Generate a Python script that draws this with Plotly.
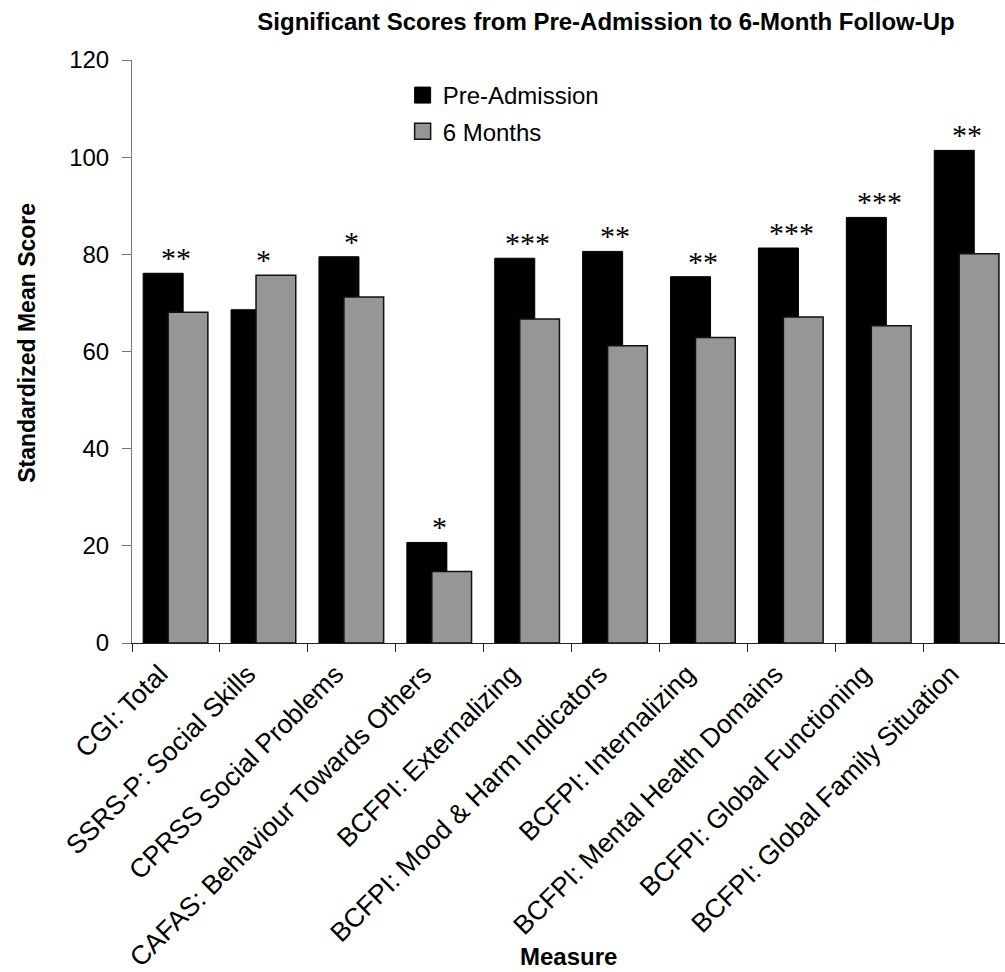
import plotly.graph_objects as go

categories = [
    "CGI: Total",
    "SSRS-P: Social Skills",
    "CPRSS Social Problems",
    "CAFAS: Behaviour Towards Others",
    "BCFPI: Externalizing",
    "BCFPI: Mood & Harm Indicators",
    "BCFPI: Internalizing",
    "BCFPI: Mental Health Domains",
    "BCFPI: Global Functioning",
    "BCFPI: Global Family Situation",
]
pre_admission = [76.1, 68.6, 79.5, 20.7, 79.2, 80.6, 75.4, 81.3, 87.6, 101.4]
six_months = [68.1, 75.7, 71.2, 14.7, 66.7, 61.2, 62.9, 67.1, 65.3, 80.1]
significance = ["**", "*", "*", "*", "***", "**", "**", "***", "***", "**"]

FONT = "Liberation Sans, Arial, sans-serif"
BLACK = "#000000"
GRAY = "#969696"

fig = go.Figure()
fig.add_trace(go.Bar(
    x=categories, y=pre_admission, name="Pre-Admission",
    marker=dict(color=BLACK, line=dict(color=BLACK, width=1)),
    offset=-0.373, width=0.455, showlegend=False,
))
fig.add_trace(go.Bar(
    x=categories, y=six_months, name="6 Months",
    marker=dict(color=GRAY, line=dict(color="#111111", width=1.5)),
    offset=-0.089, width=0.452, showlegend=False,
))
# legend entries
fig.add_trace(go.Scatter(
    x=[None], y=[None], mode="markers", name="Pre-Admission",
    marker=dict(symbol="square", size=18, color=BLACK, line=dict(color=BLACK, width=1)),
    legendgroup="a",
))
fig.add_trace(go.Scatter(
    x=[None], y=[None], mode="markers", name="6 Months",
    marker=dict(symbol="square", size=18, color=GRAY, line=dict(color="#111111", width=1.5)),
    legendgroup="b",
))

for cat, p, s, sig in zip(categories, pre_admission, six_months, significance):
    fig.add_annotation(
        x=cat, y=max(p, s), text=sig, showarrow=False,
        yanchor="bottom", xanchor="center", yshift=-3,
        font=dict(family="Liberation Serif, Times New Roman, serif", size=30, color="#000"),
    )

fig.add_annotation(
    xref="paper", yref="paper", x=0.5, y=-0.538, text="<b>Measure</b>",
    showarrow=False, xanchor="center", yanchor="middle",
    font=dict(family=FONT, size=24, color="#000"),
)
fig.add_annotation(
    xref="paper", yref="paper", x=(27 - 132) / 873, y=(643.3 - 343) / 583.3,
    text="<b>Standardized Mean Score</b>", textangle=-90,
    showarrow=False, xanchor="center", yanchor="middle",
    font=dict(family=FONT, size=23, color="#000"),
)

fig.update_layout(
    width=1005, height=972,
    margin=dict(l=132, r=0, t=60, b=329),
    paper_bgcolor="white", plot_bgcolor="white",
    barmode="overlay",
    font=dict(family=FONT, size=24, color="#000"),
    title=dict(
        text="<b>Significant Scores from Pre-Admission to 6-Month Follow-Up</b>",
        x=0.603, xanchor="center", xref="container",
        y=1 - 22 / 972, yanchor="middle", yref="container",
        font=dict(family=FONT, size=24, color="#000"),
    ),
    legend=dict(
        x=0.31, y=1 - 13 / 583, xanchor="left", yanchor="top",
        bgcolor="rgba(0,0,0,0)", font=dict(size=24),
        traceorder="grouped", tracegroupgap=2, itemwidth=30,
    ),
    showlegend=True,
)
fig.update_xaxes(
    type="category", range=[-0.5, 9.432], automargin=False,
    showline=True, linecolor="#222222", linewidth=1,
    ticks="outside", tickson="boundaries", ticklen=8, tickcolor="#222222",
    tickangle=-45, tickfont=dict(size=26.5), showgrid=False,
    ticklabelshift=-16, ticklabelstandoff=4,
)
fig.update_yaxes(
    range=[0, 120], dtick=20, automargin=False,
    showline=True, linecolor="#777777", linewidth=1,
    ticks="outside", ticklen=9, tickcolor="#777777", showgrid=False, zeroline=False,
    tickfont=dict(size=24), ticklabelstandoff=8,
)

fig.write_html("out.html", config={"displayModeBar": False},
               post_script="document.body.style.margin='0';")
